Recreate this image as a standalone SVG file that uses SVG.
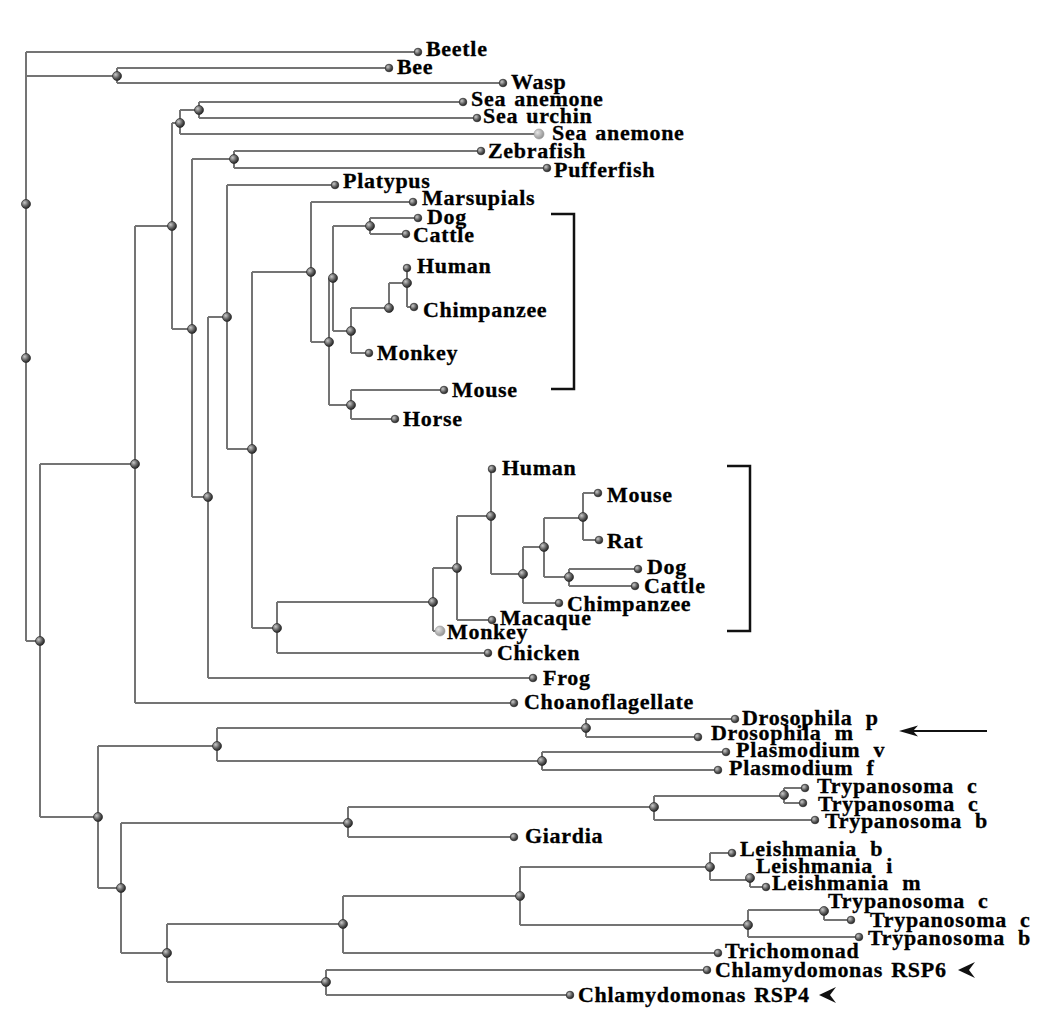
<svg xmlns="http://www.w3.org/2000/svg" width="1050" height="1019" viewBox="0 0 1050 1019">
<defs>
<radialGradient id="ball" cx="0.35" cy="0.35" r="0.7">
<stop offset="0" stop-color="#c8c8c8"/>
<stop offset="0.6" stop-color="#5a5a5a"/>
<stop offset="1" stop-color="#222"/>
</radialGradient>
<radialGradient id="gball" cx="0.35" cy="0.35" r="0.7">
<stop offset="0" stop-color="#e4e4e4"/>
<stop offset="1" stop-color="#8f8f8f"/>
</radialGradient>
</defs>
<style>
.c path{fill:none;stroke:#747474;stroke-width:2}
.n{fill:url(#ball);stroke:#2a2a2a;stroke-width:0.7}
.l{fill:url(#ball);stroke:#2a2a2a;stroke-width:0.7}
.g{fill:url(#gball);stroke:#999;stroke-width:0.6}
text{font-family:"Liberation Serif","Times New Roman",serif;font-weight:bold;font-size:22px;letter-spacing:0.7px;word-spacing:2px;fill:#000;stroke:#000;stroke-width:0.3}
text.w{word-spacing:7px}
.br{fill:none;stroke:#111;stroke-width:2.5}
.ah{fill:#111}
</style>
<rect width="1050" height="1019" fill="#fff"/>
<g class="c" id="connectors">
<path d="M26,52V641 M26,52H418 M26,76H117 M117,68V83 M117,68H389 M117,83H503 M26,641H40"/>
<path d="M40,464V817 M40,464H135 M135,226V703 M135,226H172 M135,703H514"/>
<path d="M172,123V329 M172,123H180 M180,110V134 M180,110H199 M199,102V118 M199,102H463 M199,118H477 M180,134H539"/>
<path d="M172,329H192 M192,159V497 M192,159H234 M234,151V168 M234,151H481 M234,168H547 M192,497H208"/>
<path d="M208,317V678 M208,317H227 M227,185V449 M227,185H335 M227,449H252 M252,272V628 M252,272H311"/>
<path d="M311,202V342 M311,202H413 M311,342H329 M329,278V405 M329,278H333 M333,226V331 M333,226H370 M370,218V234 M370,218H418 M370,234H406"/>
<path d="M333,331H351 M351,308V353 M351,308H389 M389,283V308 M389,283H407 M407,268V307 M407,307H414 M351,353H369"/>
<path d="M329,405H351 M351,390V419 M351,390H444 M351,419H395"/>
<path d="M252,628H277 M277,602V653 M277,602H433 M433,568V631 M433,568H457 M457,516V620 M457,516H491 M491,469V574 M491,574H523"/>
<path d="M523,547V603 M523,547H544 M544,518V577 M544,518H583 M583,493V540 M583,493H598 M583,540H599 M544,577H569 M569,569V586 M569,569H638 M569,586H635 M523,603H559"/>
<path d="M457,620H492 M433,631H440 M277,653H488 M208,678H533"/>
<path d="M40,817H98 M98,746V888 M98,746H217 M217,728V761 M217,728H586 M586,719V737 M586,719H735 M586,737H698 M217,761H542 M542,752V770 M542,752H726 M542,770H718"/>
<path d="M98,888H121 M121,823V953 M121,823H348 M348,807V837 M348,807H654 M654,796V820 M654,796H784 M784,788V803 M784,788H805 M784,803H803 M654,820H815 M348,837H514"/>
<path d="M121,953H167 M167,924V982 M167,924H343 M343,896V953 M343,896H520 M520,867V925 M520,867H710 M710,853V880 M710,853H732 M710,880H750 M750,878V887 M750,887H766"/>
<path d="M520,925H748 M748,910V937 M748,910H824 M824,910V920 M824,920H851 M748,937H859 M343,953H718 M167,982H326 M326,970V995 M326,970H707 M326,995H570"/>
</g>
<g id="internal-nodes">
<circle class="n" cx="26" cy="204" r="4.5"/><circle class="n" cx="26" cy="358" r="4.5"/>
<circle class="n" cx="117" cy="76" r="4.5"/><circle class="n" cx="40" cy="641" r="4.5"/>
<circle class="n" cx="135" cy="464" r="4.5"/><circle class="n" cx="172" cy="226" r="4.5"/>
<circle class="n" cx="180" cy="123" r="4.5"/><circle class="n" cx="199" cy="110" r="4.5"/>
<circle class="n" cx="192" cy="329" r="4.5"/><circle class="n" cx="234" cy="159" r="4.5"/>
<circle class="n" cx="208" cy="497" r="4.5"/><circle class="n" cx="227" cy="317" r="4.5"/>
<circle class="n" cx="252" cy="449" r="4.5"/><circle class="n" cx="311" cy="272" r="4.5"/>
<circle class="n" cx="329" cy="342" r="4.5"/><circle class="n" cx="333" cy="278" r="4.5"/>
<circle class="n" cx="370" cy="226" r="4.5"/><circle class="n" cx="351" cy="331" r="4.5"/>
<circle class="n" cx="389" cy="308" r="4.5"/><circle class="n" cx="407" cy="283" r="4.5"/>
<circle class="n" cx="351" cy="405" r="4.5"/><circle class="n" cx="277" cy="628" r="4.5"/>
<circle class="n" cx="433" cy="602" r="4.5"/><circle class="n" cx="457" cy="568" r="4.5"/>
<circle class="n" cx="491" cy="516" r="4.5"/><circle class="n" cx="523" cy="574" r="4.5"/>
<circle class="n" cx="544" cy="547" r="4.5"/><circle class="n" cx="583" cy="517" r="4.5"/>
<circle class="n" cx="569" cy="577" r="4.5"/><circle class="n" cx="98" cy="817" r="4.5"/>
<circle class="n" cx="217" cy="746" r="4.5"/><circle class="n" cx="586" cy="728" r="4.5"/>
<circle class="n" cx="542" cy="761" r="4.5"/><circle class="n" cx="121" cy="888" r="4.5"/>
<circle class="n" cx="348" cy="823" r="4.5"/><circle class="n" cx="654" cy="807" r="4.5"/>
<circle class="n" cx="784" cy="795" r="4.5"/><circle class="n" cx="167" cy="953" r="4.5"/>
<circle class="n" cx="343" cy="924" r="4.5"/><circle class="n" cx="520" cy="896" r="4.5"/>
<circle class="n" cx="710" cy="867" r="4.5"/><circle class="n" cx="750" cy="878" r="4.5"/>
<circle class="n" cx="748" cy="925" r="4.5"/><circle class="n" cx="824" cy="911" r="4.5"/>
<circle class="n" cx="326" cy="982" r="4.5"/>
</g>
<g id="beetle"><circle class="l" cx="418" cy="52" r="3.8"/><text x="426" y="56">Beetle</text></g>
<g id="bee"><circle class="l" cx="389" cy="68" r="3.8"/><text x="397" y="74">Bee</text></g>
<g id="wasp"><circle class="l" cx="503" cy="83" r="3.8"/><text x="511" y="89">Wasp</text></g>
<g id="sea-anemone-1"><circle class="l" cx="463" cy="102" r="3.8"/><text x="471" y="106">Sea anemone</text></g>
<g id="sea-urchin"><circle class="l" cx="477" cy="118" r="3.8"/><text x="483" y="123">Sea urchin</text></g>
<g id="sea-anemone-2"><circle class="g" cx="539" cy="134" r="5"/><text x="552" y="140">Sea anemone</text></g>
<g id="zebrafish"><circle class="l" cx="481" cy="151" r="3.8"/><text x="488" y="158">Zebrafish</text></g>
<g id="pufferfish"><circle class="l" cx="547" cy="168" r="3.8"/><text x="554" y="177">Pufferfish</text></g>
<g id="platypus"><circle class="l" cx="335" cy="185" r="3.8"/><text x="343" y="188">Platypus</text></g>
<g id="marsupials"><circle class="l" cx="413" cy="202" r="3.8"/><text x="422" y="205">Marsupials</text></g>
<g id="dog-1"><circle class="l" cx="418" cy="218" r="3.8"/><text x="427" y="224">Dog</text></g>
<g id="cattle-1"><circle class="l" cx="406" cy="234" r="3.8"/><text x="413" y="242">Cattle</text></g>
<g id="human-1"><circle class="l" cx="407" cy="268" r="3.8"/><text x="417" y="273">Human</text></g>
<g id="chimpanzee-1"><circle class="l" cx="414" cy="307" r="3.8"/><text x="423" y="317">Chimpanzee</text></g>
<g id="monkey-1"><circle class="l" cx="369" cy="353" r="3.8"/><text x="377" y="360">Monkey</text></g>
<g id="mouse-1"><circle class="l" cx="444" cy="390" r="3.8"/><text x="452" y="397">Mouse</text></g>
<g id="horse"><circle class="l" cx="395" cy="419" r="3.8"/><text x="403" y="426">Horse</text></g>
<g id="human-2"><circle class="l" cx="492" cy="469" r="3.8"/><text x="502" y="475">Human</text></g>
<g id="mouse-2"><circle class="l" cx="598" cy="493" r="3.8"/><text x="607" y="502">Mouse</text></g>
<g id="rat"><circle class="l" cx="599" cy="540" r="3.8"/><text x="607" y="548">Rat</text></g>
<g id="dog-2"><circle class="l" cx="638" cy="569" r="3.8"/><text x="647" y="574">Dog</text></g>
<g id="cattle-2"><circle class="l" cx="635" cy="586" r="3.8"/><text x="644" y="593">Cattle</text></g>
<g id="chimpanzee-2"><circle class="l" cx="559" cy="603" r="3.8"/><text x="567" y="611">Chimpanzee</text></g>
<g id="macaque"><circle class="l" cx="492" cy="620" r="3.8"/><text x="500" y="625">Macaque</text></g>
<g id="monkey-2"><circle class="g" cx="440" cy="631" r="5"/><text x="447" y="639">Monkey</text></g>
<g id="chicken"><circle class="l" cx="488" cy="653" r="3.8"/><text x="497" y="660">Chicken</text></g>
<g id="frog"><circle class="l" cx="533" cy="678" r="3.8"/><text x="543" y="685">Frog</text></g>
<g id="choanoflagellate"><circle class="l" cx="514" cy="703" r="3.8"/><text x="524" y="709">Choanoflagellate</text></g>
<g id="drosophila-p"><circle class="l" cx="735" cy="719" r="3.8"/><text class="w" x="742" y="725">Drosophila p</text></g>
<g id="drosophila-m"><circle class="l" cx="698" cy="737" r="3.8"/><text class="w" x="711" y="740">Drosophila m</text></g>
<g id="plasmodium-v"><circle class="l" cx="726" cy="752" r="3.8"/><text class="w" x="736" y="757">Plasmodium v</text></g>
<g id="plasmodium-f"><circle class="l" cx="718" cy="770" r="3.8"/><text class="w" x="729" y="775">Plasmodium f</text></g>
<g id="trypanosoma-c-1"><circle class="l" cx="805" cy="788" r="3.8"/><text class="w" x="817" y="793">Trypanosoma c</text></g>
<g id="trypanosoma-c-2"><circle class="l" cx="803" cy="803" r="3.8"/><text class="w" x="818" y="811">Trypanosoma c</text></g>
<g id="trypanosoma-b-1"><circle class="l" cx="815" cy="820" r="3.8"/><text class="w" x="825" y="828">Trypanosoma b</text></g>
<g id="giardia"><circle class="l" cx="514" cy="837" r="3.8"/><text x="525" y="843">Giardia</text></g>
<g id="leishmania-b"><circle class="l" cx="732" cy="853" r="3.8"/><text class="w" x="740" y="856">Leishmania b</text></g>
<g id="leishmania-i"><text class="w" x="756" y="873">Leishmania i</text></g>
<g id="leishmania-m"><circle class="l" cx="766" cy="887" r="3.8"/><text class="w" x="772" y="890">Leishmania m</text></g>
<g id="trypanosoma-c-3"><text class="w" x="828" y="908">Trypanosoma c</text></g>
<g id="trypanosoma-c-4"><circle class="l" cx="851" cy="920" r="3.8"/><text class="w" x="870" y="927">Trypanosoma c</text></g>
<g id="trypanosoma-b-2"><circle class="l" cx="859" cy="937" r="3.8"/><text class="w" x="868" y="945">Trypanosoma b</text></g>
<g id="trichomonad"><circle class="l" cx="718" cy="953" r="3.8"/><text x="725" y="958">Trichomonad</text></g>
<g id="chlamydomonas-rsp6"><circle class="l" cx="707" cy="970" r="3.8"/><text x="715" y="977">Chlamydomonas RSP6</text></g>
<g id="chlamydomonas-rsp4"><circle class="l" cx="570" cy="995" r="3.8"/><text x="578" y="1002">Chlamydomonas RSP4</text></g>
<g id="annotations">
<path class="br" d="M551,214H574V389H551"/>
<path class="br" d="M727,466H750V631H727"/>
<path d="M912,731H987" stroke="#111" stroke-width="2" fill="none"/>
<polygon class="ah" points="899,731 918,725.5 913,731 918,736.5"/>
<polygon class="ah" points="958,970 975,962 969,970 975,978"/>
<polygon class="ah" points="819,995 836,987 830,995 836,1003"/>
</g>
</svg>
